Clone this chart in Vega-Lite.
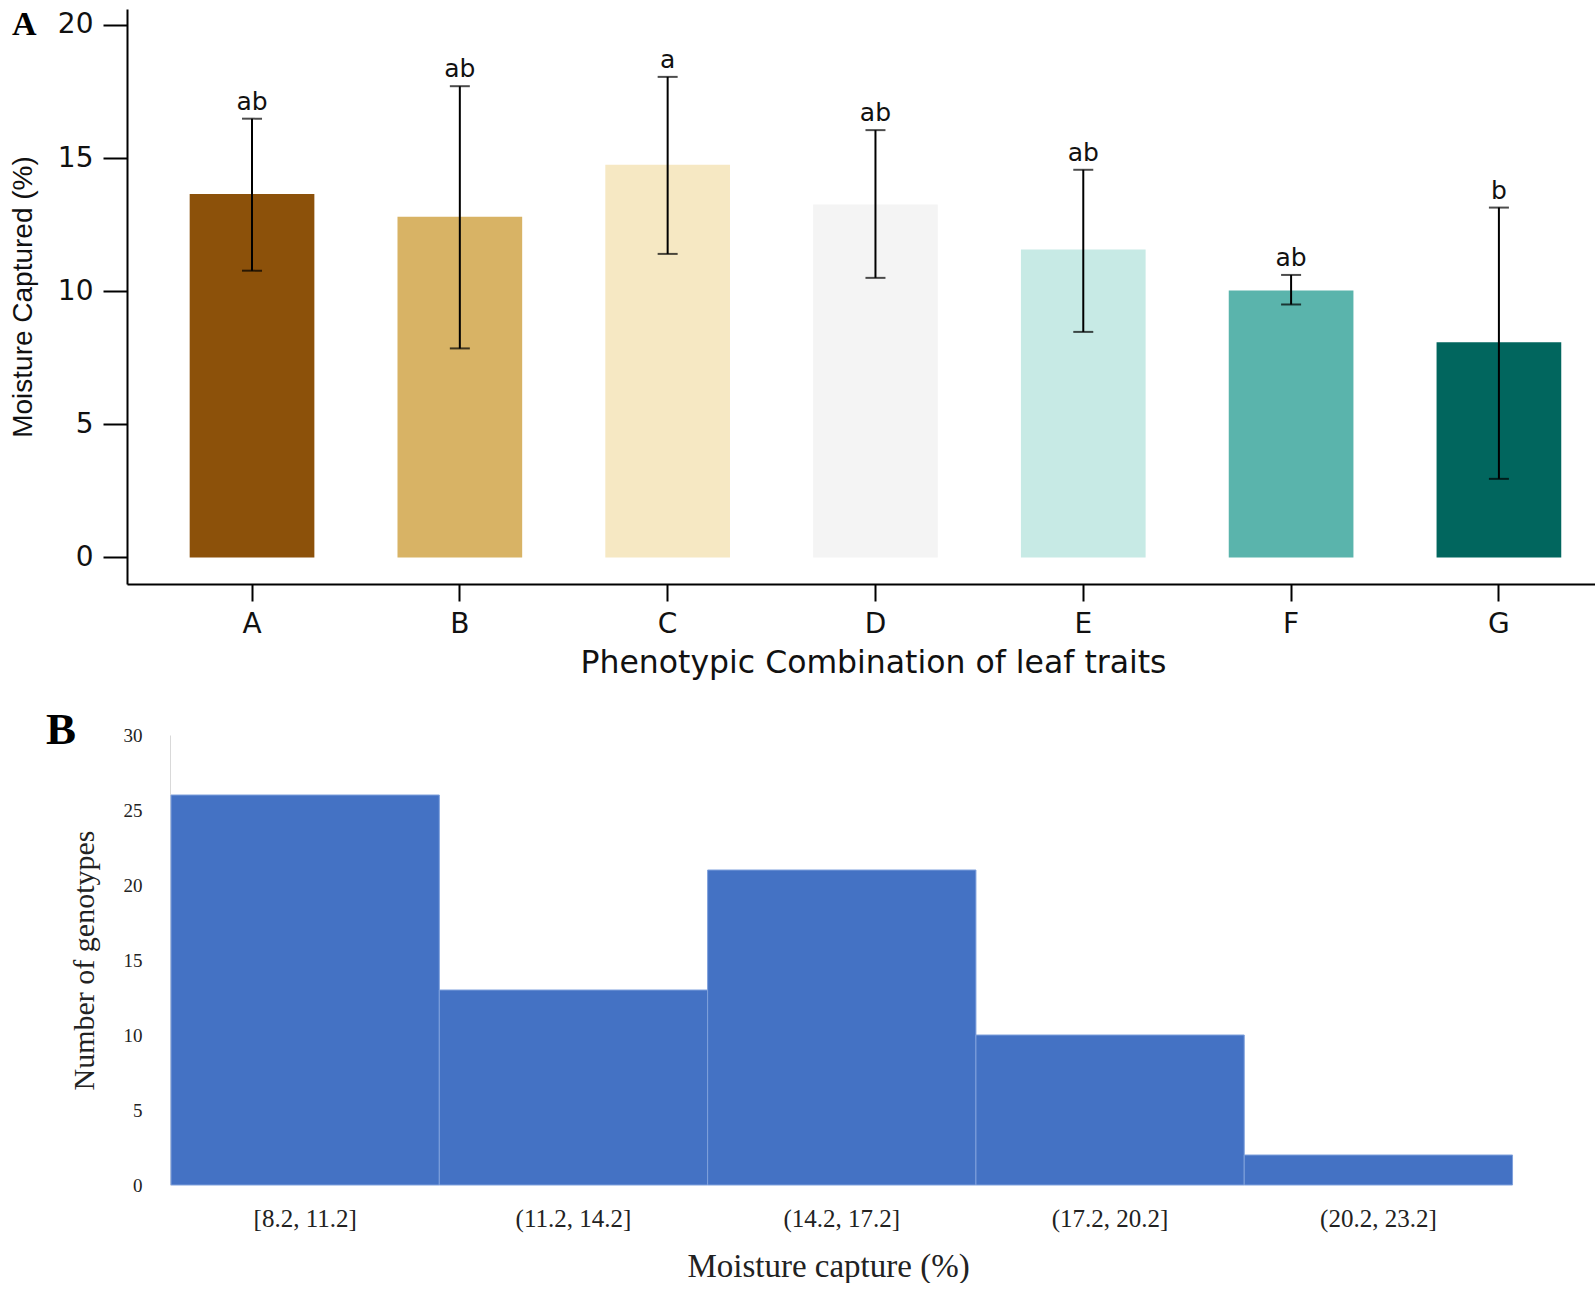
{
  "$schema": "https://vega.github.io/schema/vega-lite/v6.json",
  "padding": {"left": 9, "top": 8, "right": 0, "bottom": 0},
  "background": "white",
  "spacing": 29,
  "config": {"view": {"stroke": null}},
  "vconcat": [
    {
      "width": 1468,
      "height": 575,
      "title": {"text": "A", "font": "Liberation Serif", "fontWeight": "bold", "fontSize": 34, "color": "#000", "anchor": "start", "frame": "group", "orient": "top", "baseline": "alphabetic", "offset": -60, "dx": -115},
      "data": {"values": [
        {"group": "A", "mean": 13.65, "lo": 10.77, "hi": 16.48, "sig": "ab"},
        {"group": "B", "mean": 12.8, "lo": 7.85, "hi": 17.7, "sig": "ab"},
        {"group": "C", "mean": 14.75, "lo": 11.4, "hi": 18.05, "sig": "a"},
        {"group": "D", "mean": 13.26, "lo": 10.5, "hi": 16.05, "sig": "ab"},
        {"group": "E", "mean": 11.57, "lo": 8.47, "hi": 14.56, "sig": "ab"},
        {"group": "F", "mean": 10.03, "lo": 9.5, "hi": 10.61, "sig": "ab"},
        {"group": "G", "mean": 8.08, "lo": 2.95, "hi": 13.14, "sig": "b"}
      ]},
      "encoding": {
        "x": {
          "field": "group", "type": "nominal", "sort": null,
          "scale": {"paddingInner": 0.4, "paddingOuter": 0.232, "align": 0.65},
          "axis": {
            "title": "Phenotypic Combination of leaf traits",
            "labelAngle": 0, "domainColor": "#000", "domainWidth": 2,
            "tickColor": "#000", "tickWidth": 2, "tickSize": 17,
            "labelPadding": 9, "labelFont": "DejaVu Sans", "labelFontSize": 28, "labelColor": "#111",
            "titleFont": "DejaVu Sans", "titleFontSize": 31.5, "titleFontWeight": "normal", "titleColor": "#111",
            "titlePadding": 9, "titleX": 746, "titleAlign": "center"
          }
        }
      },
      "layer": [
        {
          "mark": {"type": "bar"},
          "encoding": {
            "y": {
              "field": "mean", "type": "quantitative", "title": "Moisture Captured (%)",
              "scale": {"domain": [-1, 20.6], "nice": false, "zero": false},
              "axis": {
                "values": [0, 5, 10, 15, 20], "grid": false,
                "domainColor": "#000", "domainWidth": 2,
                "tickColor": "#000", "tickWidth": 2, "tickSize": 24,
                "labelPadding": 10, "labelFont": "DejaVu Sans", "labelFontSize": 28, "labelColor": "#111",
                "titleFont": "Liberation Sans", "titleFontSize": 28, "titleFontWeight": "normal", "titleColor": "#111",
                "titlePadding": 20
              }
            },
            "y2": {"datum": 0},
            "color": {
              "field": "group", "type": "nominal", "legend": null,
              "scale": {"domain": ["A", "B", "C", "D", "E", "F", "G"], "range": ["#8c510a", "#d8b365", "#f6e8c3", "#f4f4f4", "#c7eae5", "#5ab4ac", "#01665e"]}
            }
          }
        },
        {
          "mark": {"type": "rule", "color": "#000", "strokeWidth": 2},
          "encoding": {
            "y": {"field": "lo", "type": "quantitative", "title": "Moisture Captured (%)"},
            "y2": {"field": "hi"}
          }
        },
        {
          "mark": {"type": "tick", "color": "#000", "thickness": 2, "size": 20, "orient": "horizontal"},
          "encoding": {"y": {"field": "lo", "type": "quantitative", "title": "Moisture Captured (%)"}}
        },
        {
          "mark": {"type": "tick", "color": "#000", "thickness": 2, "size": 20, "orient": "horizontal"},
          "encoding": {"y": {"field": "hi", "type": "quantitative", "title": "Moisture Captured (%)"}}
        },
        {
          "mark": {"type": "text", "font": "DejaVu Sans", "fontSize": 25, "baseline": "alphabetic", "dy": -9, "color": "#111"},
          "encoding": {
            "y": {"field": "hi", "type": "quantitative", "title": "Moisture Captured (%)"},
            "text": {"field": "sig"}
          }
        }
      ]
    },
    {
      "width": 1468,
      "height": 450,
      "title": {"text": "B", "font": "Liberation Serif", "fontWeight": "bold", "fontSize": 45, "color": "#000", "anchor": "start", "frame": "group", "orient": "top", "baseline": "alphabetic", "offset": -63, "dx": -81},
      "data": {"values": [
        {"range": "[8.2, 11.2]", "count": 26},
        {"range": "(11.2, 14.2]", "count": 13},
        {"range": "(14.2, 17.2]", "count": 21},
        {"range": "(17.2, 20.2]", "count": 10},
        {"range": "(20.2, 23.2]", "count": 2}
      ]},
      "mark": {"type": "bar", "color": "#4472c4", "stroke": "#7fa0dc", "strokeWidth": 1},
      "encoding": {
        "x": {
          "field": "range", "type": "nominal", "sort": null,
          "scale": {"paddingInner": 0, "paddingOuter": 0.2357, "align": 0.348},
          "axis": {
            "title": "Moisture capture (%)", "labelAngle": 0, "domain": false, "ticks": false, "tickSize": 0,
            "labelPadding": 21, "labelFont": "Liberation Serif", "labelFontSize": 25, "labelColor": "#222",
            "titleFont": "Liberation Serif", "titleFontSize": 33, "titleFontWeight": "normal", "titleColor": "#222",
            "titlePadding": 19, "titleX": 701, "titleAlign": "center"
          }
        },
        "y": {
          "field": "count", "type": "quantitative",
          "scale": {"domain": [0, 30], "nice": false},
          "axis": {
            "title": "Number of genotypes", "values": [0, 5, 10, 15, 20, 25, 30], "grid": false,
            "offset": -43, "domainColor": "#d9d9d9", "domainWidth": 1, "ticks": false, "tickSize": 0,
            "labelPadding": 28, "labelFont": "Liberation Serif", "labelFontSize": 19, "labelColor": "#222",
            "titleFont": "Liberation Serif", "titleFontSize": 30, "titleFontWeight": "normal", "titleColor": "#222",
            "titlePadding": 24
          }
        }
      }
    }
  ]
}
